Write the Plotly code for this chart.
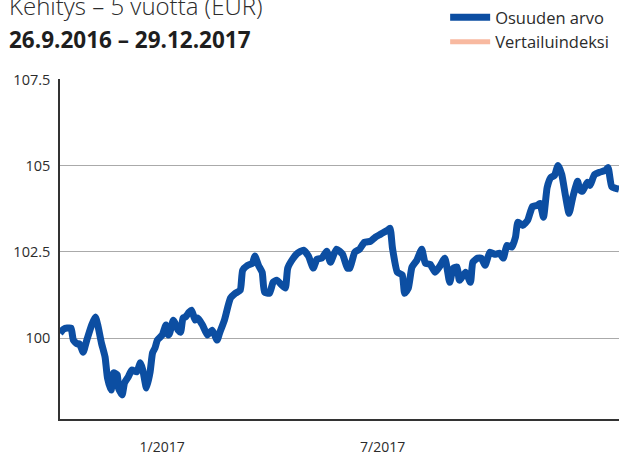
import plotly.graph_objects as go

# Fund value index (start = 100), 26.9.2016 - 29.12.2017
dates = [
    "2016-09-26", "2016-09-29", "2016-10-02", "2016-10-05", "2016-10-07", "2016-10-10",
    "2016-10-12", "2016-10-15", "2016-10-18", "2016-10-22", "2016-10-25", "2016-10-27",
    "2016-10-30", "2016-11-02", "2016-11-04", "2016-11-07", "2016-11-09", "2016-11-12",
    "2016-11-13", "2016-11-16", "2016-11-18", "2016-11-21", "2016-11-24", "2016-11-28",
    "2016-12-01", "2016-12-03", "2016-12-06", "2016-12-09", "2016-12-11", "2016-12-13",
    "2016-12-15", "2016-12-19", "2016-12-22", "2016-12-24", "2016-12-25", "2016-12-28",
    "2016-12-29", "2017-01-01", "2017-01-03", "2017-01-05", "2017-01-07", "2017-01-10",
    "2017-01-12", "2017-01-15", "2017-01-17", "2017-01-21", "2017-01-25", "2017-01-29",
    "2017-02-02", "2017-02-04", "2017-02-08", "2017-02-13", "2017-02-17", "2017-02-21",
    "2017-02-23", "2017-02-27", "2017-03-03", "2017-03-05", "2017-03-08", "2017-03-11",
    "2017-03-13", "2017-03-17", "2017-03-20", "2017-03-23", "2017-03-27", "2017-03-30",
    "2017-04-01", "2017-04-05", "2017-04-09", "2017-04-14", "2017-04-18", "2017-04-22",
    "2017-04-25", "2017-04-29", "2017-05-03", "2017-05-06", "2017-05-11", "2017-05-16",
    "2017-05-20", "2017-05-22", "2017-05-26", "2017-05-30", "2017-06-03", "2017-06-08",
    "2017-06-12", "2017-06-16", "2017-06-19", "2017-06-22", "2017-06-24", "2017-06-26",
    "2017-06-30", "2017-07-04", "2017-07-06", "2017-07-09", "2017-07-12", "2017-07-16",
    "2017-07-20", "2017-07-23", "2017-07-27", "2017-07-31", "2017-08-04", "2017-08-08",
    "2017-08-12", "2017-08-15", "2017-08-18", "2017-08-20", "2017-08-25", "2017-08-29",
    "2017-08-31", "2017-09-04", "2017-09-07", "2017-09-10", "2017-09-14", "2017-09-18",
    "2017-09-22", "2017-09-25", "2017-09-28", "2017-10-02", "2017-10-05", "2017-10-07",
    "2017-10-11", "2017-10-15", "2017-10-19", "2017-10-23", "2017-10-25", "2017-10-28",
    "2017-10-31", "2017-11-03", "2017-11-06", "2017-11-09", "2017-11-12", "2017-11-15",
    "2017-11-18", "2017-11-21", "2017-11-25", "2017-11-27", "2017-11-29", "2017-12-03",
    "2017-12-05", "2017-12-09", "2017-12-13", "2017-12-18", "2017-12-20", "2017-12-23",
    "2017-12-26", "2017-12-29",
]

osuuden_arvo = [
    100.14, 100.26, 100.29, 100.29, 99.94, 99.83,
    99.83, 99.59, 99.94, 100.38, 100.61, 100.38,
    99.86, 99.45, 98.84, 98.49, 98.99, 98.93,
    98.55, 98.35, 98.70, 98.87, 99.07, 99.02,
    99.28, 99.07, 98.55, 99.02, 99.57, 99.71,
    99.94, 100.09, 100.38, 100.09, 100.14, 100.52,
    100.46, 100.23, 100.17, 100.58, 100.61, 100.75,
    100.81, 100.52, 100.58, 100.38, 100.09, 100.23,
    99.94, 100.14, 100.52, 101.16, 101.30, 101.39,
    101.97, 102.11, 102.17, 102.38, 102.11, 101.91,
    101.33, 101.30, 101.62, 101.68, 101.54, 101.45,
    102.03, 102.29, 102.46, 102.55, 102.38, 102.03,
    102.29, 102.32, 102.52, 102.20, 102.58, 102.43,
    102.03, 102.03, 102.49, 102.58, 102.78, 102.81,
    102.93, 103.01, 103.07, 103.13, 103.19, 102.61,
    101.91, 101.83, 101.30, 101.45, 102.06, 102.26,
    102.58, 102.17, 102.14, 101.91, 102.09, 102.32,
    101.62, 102.03, 102.06, 101.68, 101.91, 101.62,
    102.20, 102.32, 102.32, 102.11, 102.49, 102.43,
    102.46, 102.32, 102.69, 102.64, 102.93, 103.36,
    103.27, 103.42, 103.82, 103.85, 103.91, 103.51,
    104.37, 104.66, 104.72, 105.01, 104.75, 104.14,
    103.62, 104.08, 104.55, 104.29, 104.26, 104.52,
    104.43, 104.75, 104.81, 104.87, 104.95, 104.40,
    104.35, 104.32,
]

# Benchmark has no published values for this period (legend entry only)
vertailuindeksi = [None]

series_names = ["Osuuden arvo", "Vertailuindeksi"]
series_colors = ["#0c4ea2", "#f8b9a0"]

x_tick_vals = ["2017-01-01", "2017-07-01"]
x_tick_text = ["1/2017", "7/2017"]
y_tick_vals = [100, 102.5, 105, 107.5]
y_tick_text = ["100", "102.5", "105", "107.5"]

FONT = "Open Sans"
TEXT = "#2b2b2b"

fig = go.Figure()
fig.add_trace(go.Scatter(
    x=dates, y=osuuden_arvo, mode="lines", name=series_names[0],
    line=dict(color=series_colors[0], width=7, shape="spline", smoothing=0.5),
))
fig.add_trace(go.Scatter(
    x=dates[:len(vertailuindeksi)], y=vertailuindeksi, mode="lines",
    name=series_names[1], line=dict(color=series_colors[1], width=5),
))

fig.update_layout(
    width=619, height=457,
    margin=dict(l=60, r=0, t=79, b=38),
    paper_bgcolor="white", plot_bgcolor="white",
    font=dict(family=FONT, color=TEXT, size=14),
    showlegend=True,
    legend=dict(
        x=0.689, y=1.232, xanchor="left", yanchor="top",
        font=dict(family=FONT, size=16.5, color=TEXT),
        bgcolor="rgba(0,0,0,0)", itemwidth=40, tracegroupgap=0,
    ),
    xaxis=dict(
        type="date", range=["2016-09-26", "2017-12-29"],
        tickmode="array", tickvals=x_tick_vals, ticktext=x_tick_text,
        ticks="", showgrid=False, zeroline=False,
        showline=True, linecolor="#333333", linewidth=1.5,
        tickfont=dict(family=FONT, size=14, color=TEXT),
        ticklabelshift=-16, ticklabelstandoff=14,
    ),
    yaxis=dict(
        range=[97.65, 107.52],
        tickmode="array", tickvals=y_tick_vals, ticktext=y_tick_text,
        ticks="", showgrid=True, gridcolor="#aaaaaa", gridwidth=1,
        zeroline=False, showline=True, linecolor="#333333", linewidth=1.5,
        tickfont=dict(family=FONT, size=14.5, color=TEXT),
        ticklabelstandoff=5,
    ),
    annotations=[
        dict(text="Kehitys – 5 vuotta (EUR)", xref="paper", yref="paper",
             x=-0.095, y=1.216, xanchor="left", yanchor="middle", showarrow=False,
             font=dict(family=FONT, size=24, color=TEXT, weight=300)),
        dict(text="<b>26.9.2016 – 29.12.2017</b>", xref="paper", yref="paper",
             x=-0.095, y=1.1176, xanchor="left", yanchor="middle", showarrow=False,
             font=dict(family=FONT, size=22.5, color="#1e1e1e")),
    ],
)

fig.write_html("out.html")
